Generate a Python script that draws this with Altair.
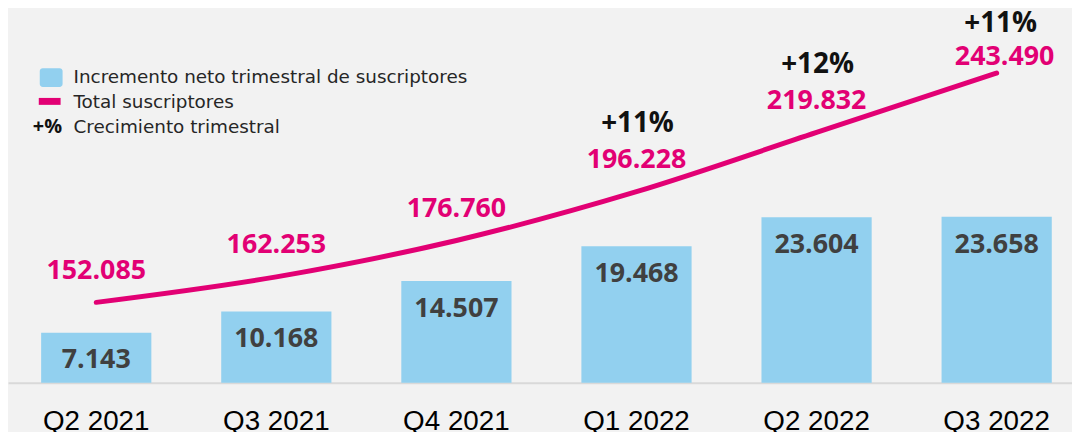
import altair as alt
import pandas as pd

quarters = ["Q2 2021", "Q3 2021", "Q4 2021", "Q1 2022", "Q2 2022", "Q3 2022"]
net_adds = [7143, 10168, 14507, 19468, 23604, 23658]
totals = [152085, 162253, 176760, 196228, 219832, 243490]
growth = [None, None, None, 11, 12, 11]
legend_labels = [
    "Incremento neto trimestral de suscriptores",
    "Total suscriptores",
    "Crecimiento trimestral",
]


def fmt(v):
    return f"{v:,}".replace(",", ".")


df = pd.DataFrame({"q": quarters, "net": net_adds, "total": totals})
df["net_lbl"] = [fmt(v) for v in net_adds]
df["total_lbl"] = [fmt(v) for v in totals]
df["g_lbl"] = ["" if g is None else f"+{g}%" for g in growth]

BLUE = "#92D0EF"
MAGENTA = "#E20074"
DARK = "#404040"
NUMFONT = "Open Sans"
LAST = quarters[-1]

x = alt.X(
    "q:N",
    sort=quarters,
    scale=alt.Scale(range=[0, 1085], paddingInner=0.388, paddingOuter=0.184),
    axis=alt.Axis(
        title=None, labelAngle=0, labelFont="Liberation Sans", labelFontSize=28,
        labelColor="#000000", labelPadding=25, ticks=False, grid=False,
        domainColor="#d9d9d9", domainWidth=2,
    ),
)
ybar = alt.Y("net:Q", scale=alt.Scale(domain=[0, 53200]), axis=None)
yline = alt.Y("total:Q", scale=alt.Scale(domain=[120030, 268820]), axis=None)

base = alt.Chart(df)
bars = base.mark_bar(color=BLUE).encode(x=x, y=ybar)
bar_text = base.mark_text(
    font=NUMFONT, fontWeight="bold", fontSize=27, color=DARK, baseline="middle", dy=28
).encode(x=x, y=ybar, text="net_lbl:N")

line = base.mark_line(
    color=MAGENTA, strokeWidth=5, interpolate="monotone", strokeCap="round"
).encode(x=x, y=yline)

tot_text = base.mark_text(
    font=NUMFONT, fontWeight="bold", fontSize=27, color=MAGENTA, baseline="middle", dy=-32
).encode(x=x, y=yline, text="total_lbl:N").transform_filter(alt.datum.q != LAST)
tot_text_last = base.mark_text(
    font=NUMFONT, fontWeight="bold", fontSize=27, color=MAGENTA, baseline="middle", dy=-16, dx=8
).encode(x=x, y=yline, text="total_lbl:N").transform_filter(alt.datum.q == LAST)

pct_text = base.mark_text(
    font=NUMFONT, fontWeight="bold", fontSize=28, color="#111111", baseline="middle", dy=-68, dx=1
).encode(x=x, y=yline, text="g_lbl:N").transform_filter(
    (alt.datum.g_lbl != "") & (alt.datum.q != LAST)
)
pct_text_last = base.mark_text(
    font=NUMFONT, fontWeight="bold", fontSize=28, color="#111111", baseline="middle", dy=-49, dx=4
).encode(x=x, y=yline, text="g_lbl:N").transform_filter(alt.datum.q == LAST)

one = pd.DataFrame({"a": [0]})
leg_rect = alt.Chart(one).mark_rect(color=BLUE, cornerRadius=3).encode(
    x=alt.value(32), x2=alt.value(55), y=alt.value(59), y2=alt.value(78)
)
leg_line = alt.Chart(one).mark_rect(color=MAGENTA).encode(
    x=alt.value(31), x2=alt.value(53), y=alt.value(89), y2=alt.value(96)
)
leg_pct = alt.Chart(pd.DataFrame({"t": ["+%"]})).mark_text(
    align="left", baseline="middle", font=NUMFONT, fontWeight="bold", fontSize=20, color="#111111"
).encode(text="t:N", x=alt.value(25), y=alt.value(118))


def leg_text(label, ypos):
    return alt.Chart(pd.DataFrame({"t": [label]})).mark_text(
        align="left", baseline="middle", font="DejaVu Sans", fontSize=18.5, color="#262626"
    ).encode(text="t:N", x=alt.value(66), y=alt.value(ypos))


legend = alt.layer(
    leg_rect, leg_line, leg_pct,
    leg_text(legend_labels[0], 68),
    leg_text(legend_labels[1], 93),
    leg_text(legend_labels[2], 118),
)

chart = alt.layer(
    alt.layer(bars, bar_text),
    alt.layer(line, tot_text, tot_text_last, pct_text, pct_text_last),
    legend,
).resolve_scale(y="independent").properties(
    width=1072,
    height=376,
    autosize=alt.AutoSizeParams(type="none"),
    padding={"left": 0, "top": 0, "right": 0, "bottom": 48},
    background="#f2f2f2",
).configure_view(stroke=None)

chart.save("out.html", embed_options={"renderer": "svg", "actions": False})
